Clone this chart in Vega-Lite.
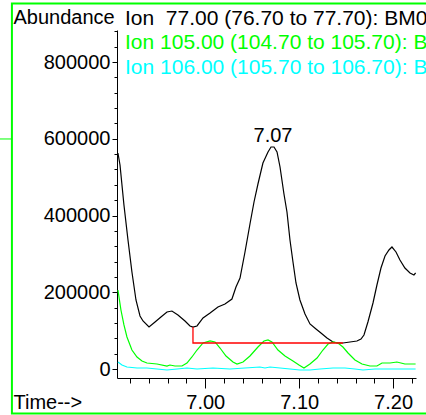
{
  "$schema": "https://vega.github.io/schema/vega-lite/v6.json",
  "width": 299,
  "height": 348,
  "autosize": {"type": "none"},
  "padding": {"left": 117, "top": 30, "right": 10, "bottom": 37},
  "background": "white",
  "config": {
    "view": {"stroke": null},
    "font": "Liberation Sans",
    "axis": {"labelFont": "Liberation Sans", "titleFont": "Liberation Sans", "labelFontSize": 20, "titleFontSize": 20, "titleFontWeight": "normal", "labelColor": "black", "titleColor": "black", "domainColor": "black", "tickColor": "black", "grid": false, "labelOverlap": false}
  },
  "resolve": {"axis": {"x": "independent", "y": "independent"}},
  "datasets": {
    "border": [{"time": 6.7941, "time2": 7.26, "abundance": 952400, "abundance2": -116000}],
    "stub": [{"time": 6.7813, "time2": 6.7941, "abundance": 599400}],
    "ions": [
      {"ion": "Ion 77", "time": 6.9070, "abundance": 562900},
      {"ion": "Ion 77", "time": 6.9092, "abundance": 531600},
      {"ion": "Ion 77", "time": 6.9134, "abundance": 427400},
      {"ion": "Ion 77", "time": 6.9177, "abundance": 336200},
      {"ion": "Ion 77", "time": 6.9219, "abundance": 252800},
      {"ion": "Ion 77", "time": 6.9262, "abundance": 179800},
      {"ion": "Ion 77", "time": 6.9305, "abundance": 138100},
      {"ion": "Ion 77", "time": 6.9337, "abundance": 125100},
      {"ion": "Ion 77", "time": 6.9401, "abundance": 109400},
      {"ion": "Ion 77", "time": 6.9465, "abundance": 122500},
      {"ion": "Ion 77", "time": 6.9528, "abundance": 135500},
      {"ion": "Ion 77", "time": 6.9592, "abundance": 148500},
      {"ion": "Ion 77", "time": 6.9645, "abundance": 151100},
      {"ion": "Ion 77", "time": 6.9709, "abundance": 140700},
      {"ion": "Ion 77", "time": 6.9784, "abundance": 125100},
      {"ion": "Ion 77", "time": 6.9837, "abundance": 112100},
      {"ion": "Ion 77", "time": 6.9869, "abundance": 109400},
      {"ion": "Ion 77", "time": 6.9912, "abundance": 112100},
      {"ion": "Ion 77", "time": 6.9976, "abundance": 132900},
      {"ion": "Ion 77", "time": 7.0051, "abundance": 145900},
      {"ion": "Ion 77", "time": 7.0135, "abundance": 161600},
      {"ion": "Ion 77", "time": 7.0210, "abundance": 169400},
      {"ion": "Ion 77", "time": 7.0284, "abundance": 182400},
      {"ion": "Ion 77", "time": 7.0327, "abundance": 213700},
      {"ion": "Ion 77", "time": 7.0370, "abundance": 237100},
      {"ion": "Ion 77", "time": 7.0423, "abundance": 304900},
      {"ion": "Ion 77", "time": 7.0476, "abundance": 377900},
      {"ion": "Ion 77", "time": 7.0519, "abundance": 435200},
      {"ion": "Ion 77", "time": 7.0561, "abundance": 482100},
      {"ion": "Ion 77", "time": 7.0614, "abundance": 536800},
      {"ion": "Ion 77", "time": 7.0668, "abundance": 565500},
      {"ion": "Ion 77", "time": 7.0700, "abundance": 578500},
      {"ion": "Ion 77", "time": 7.0732, "abundance": 578500},
      {"ion": "Ion 77", "time": 7.0764, "abundance": 565500},
      {"ion": "Ion 77", "time": 7.0796, "abundance": 526400},
      {"ion": "Ion 77", "time": 7.0838, "abundance": 456000},
      {"ion": "Ion 77", "time": 7.0870, "abundance": 409100},
      {"ion": "Ion 77", "time": 7.0902, "abundance": 336200},
      {"ion": "Ion 77", "time": 7.0934, "abundance": 278800},
      {"ion": "Ion 77", "time": 7.0966, "abundance": 224100},
      {"ion": "Ion 77", "time": 7.1008, "abundance": 179800},
      {"ion": "Ion 77", "time": 7.1062, "abundance": 143300},
      {"ion": "Ion 77", "time": 7.1115, "abundance": 117300},
      {"ion": "Ion 77", "time": 7.1179, "abundance": 104200},
      {"ion": "Ion 77", "time": 7.1232, "abundance": 93800},
      {"ion": "Ion 77", "time": 7.1296, "abundance": 80800},
      {"ion": "Ion 77", "time": 7.1360, "abundance": 70400},
      {"ion": "Ion 77", "time": 7.1413, "abundance": 67800},
      {"ion": "Ion 77", "time": 7.1466, "abundance": 67800},
      {"ion": "Ion 77", "time": 7.1541, "abundance": 70400},
      {"ion": "Ion 77", "time": 7.1615, "abundance": 73000},
      {"ion": "Ion 77", "time": 7.1658, "abundance": 78200},
      {"ion": "Ion 77", "time": 7.1690, "abundance": 88600},
      {"ion": "Ion 77", "time": 7.1732, "abundance": 122500},
      {"ion": "Ion 77", "time": 7.1786, "abundance": 172000},
      {"ion": "Ion 77", "time": 7.1828, "abundance": 218900},
      {"ion": "Ion 77", "time": 7.1871, "abundance": 263200},
      {"ion": "Ion 77", "time": 7.1914, "abundance": 294500},
      {"ion": "Ion 77", "time": 7.1956, "abundance": 310100},
      {"ion": "Ion 77", "time": 7.1988, "abundance": 317900},
      {"ion": "Ion 77", "time": 7.2031, "abundance": 304900},
      {"ion": "Ion 77", "time": 7.2073, "abundance": 284000},
      {"ion": "Ion 77", "time": 7.2126, "abundance": 263200},
      {"ion": "Ion 77", "time": 7.2180, "abundance": 250200},
      {"ion": "Ion 77", "time": 7.2222, "abundance": 245000},
      {"ion": "Ion 77", "time": 7.2240, "abundance": 250200},

      {"ion": "Ion 105", "time": 6.9070, "abundance": 205900},
      {"ion": "Ion 105", "time": 6.9102, "abundance": 153700},
      {"ion": "Ion 105", "time": 6.9134, "abundance": 114700},
      {"ion": "Ion 105", "time": 6.9166, "abundance": 83400},
      {"ion": "Ion 105", "time": 6.9219, "abundance": 49500},
      {"ion": "Ion 105", "time": 6.9273, "abundance": 31300},
      {"ion": "Ion 105", "time": 6.9326, "abundance": 20800},
      {"ion": "Ion 105", "time": 6.9379, "abundance": 15600},
      {"ion": "Ion 105", "time": 6.9486, "abundance": 13000},
      {"ion": "Ion 105", "time": 6.9592, "abundance": 7800},
      {"ion": "Ion 105", "time": 6.9624, "abundance": 10400},
      {"ion": "Ion 105", "time": 6.9677, "abundance": 7800},
      {"ion": "Ion 105", "time": 6.9752, "abundance": 7800},
      {"ion": "Ion 105", "time": 6.9805, "abundance": 15600},
      {"ion": "Ion 105", "time": 6.9858, "abundance": 31300},
      {"ion": "Ion 105", "time": 6.9912, "abundance": 49500},
      {"ion": "Ion 105", "time": 6.9976, "abundance": 67800},
      {"ion": "Ion 105", "time": 7.0051, "abundance": 73000},
      {"ion": "Ion 105", "time": 7.0104, "abundance": 70400},
      {"ion": "Ion 105", "time": 7.0157, "abundance": 54700},
      {"ion": "Ion 105", "time": 7.0221, "abundance": 33900},
      {"ion": "Ion 105", "time": 7.0295, "abundance": 18200},
      {"ion": "Ion 105", "time": 7.0338, "abundance": 13000},
      {"ion": "Ion 105", "time": 7.0402, "abundance": 18200},
      {"ion": "Ion 105", "time": 7.0476, "abundance": 33900},
      {"ion": "Ion 105", "time": 7.0561, "abundance": 57300},
      {"ion": "Ion 105", "time": 7.0625, "abundance": 73000},
      {"ion": "Ion 105", "time": 7.0668, "abundance": 75600},
      {"ion": "Ion 105", "time": 7.0710, "abundance": 70400},
      {"ion": "Ion 105", "time": 7.0774, "abundance": 49500},
      {"ion": "Ion 105", "time": 7.0849, "abundance": 33900},
      {"ion": "Ion 105", "time": 7.0934, "abundance": 20800},
      {"ion": "Ion 105", "time": 7.0998, "abundance": 10400},
      {"ion": "Ion 105", "time": 7.1051, "abundance": 2600},
      {"ion": "Ion 105", "time": 7.1115, "abundance": 13000},
      {"ion": "Ion 105", "time": 7.1190, "abundance": 28700},
      {"ion": "Ion 105", "time": 7.1253, "abundance": 49500},
      {"ion": "Ion 105", "time": 7.1307, "abundance": 65100},
      {"ion": "Ion 105", "time": 7.1360, "abundance": 70400},
      {"ion": "Ion 105", "time": 7.1413, "abundance": 67800},
      {"ion": "Ion 105", "time": 7.1466, "abundance": 57300},
      {"ion": "Ion 105", "time": 7.1520, "abundance": 41700},
      {"ion": "Ion 105", "time": 7.1594, "abundance": 23500},
      {"ion": "Ion 105", "time": 7.1669, "abundance": 13000},
      {"ion": "Ion 105", "time": 7.1754, "abundance": 7800},
      {"ion": "Ion 105", "time": 7.1828, "abundance": 7800},
      {"ion": "Ion 105", "time": 7.1882, "abundance": 15600},
      {"ion": "Ion 105", "time": 7.1967, "abundance": 15600},
      {"ion": "Ion 105", "time": 7.2041, "abundance": 18200},
      {"ion": "Ion 105", "time": 7.2126, "abundance": 13000},
      {"ion": "Ion 105", "time": 7.2240, "abundance": 13000},

      {"ion": "Ion 106", "time": 6.9070, "abundance": 18200},
      {"ion": "Ion 106", "time": 6.9113, "abundance": 10400},
      {"ion": "Ion 106", "time": 6.9166, "abundance": 5200},
      {"ion": "Ion 106", "time": 6.9273, "abundance": 2600},
      {"ion": "Ion 106", "time": 6.9379, "abundance": 2600},
      {"ion": "Ion 106", "time": 6.9486, "abundance": 0},
      {"ion": "Ion 106", "time": 6.9592, "abundance": -2600},
      {"ion": "Ion 106", "time": 6.9699, "abundance": 0},
      {"ion": "Ion 106", "time": 6.9805, "abundance": 2600},
      {"ion": "Ion 106", "time": 6.9912, "abundance": 0},
      {"ion": "Ion 106", "time": 7.0082, "abundance": 2600},
      {"ion": "Ion 106", "time": 7.0263, "abundance": 0},
      {"ion": "Ion 106", "time": 7.0423, "abundance": 2600},
      {"ion": "Ion 106", "time": 7.0582, "abundance": 5200},
      {"ion": "Ion 106", "time": 7.0636, "abundance": 2600},
      {"ion": "Ion 106", "time": 7.0689, "abundance": 5200},
      {"ion": "Ion 106", "time": 7.0796, "abundance": 2600},
      {"ion": "Ion 106", "time": 7.0902, "abundance": 0},
      {"ion": "Ion 106", "time": 7.1008, "abundance": -2600},
      {"ion": "Ion 106", "time": 7.1115, "abundance": -2600},
      {"ion": "Ion 106", "time": 7.1221, "abundance": 0},
      {"ion": "Ion 106", "time": 7.1360, "abundance": 2600},
      {"ion": "Ion 106", "time": 7.1488, "abundance": 2600},
      {"ion": "Ion 106", "time": 7.1594, "abundance": 0},
      {"ion": "Ion 106", "time": 7.1679, "abundance": -2600},
      {"ion": "Ion 106", "time": 7.1807, "abundance": 0},
      {"ion": "Ion 106", "time": 7.1967, "abundance": 0},
      {"ion": "Ion 106", "time": 7.2126, "abundance": 0},
      {"ion": "Ion 106", "time": 7.2240, "abundance": 0}
    ],
    "baseline": [
      {"step": 1, "time": 6.9869, "abundance": 109400},
      {"step": 2, "time": 6.9869, "abundance": 67800},
      {"step": 3, "time": 7.1466, "abundance": 67800}
    ],
    "peaks": [{"label": "7.07", "time": 7.07, "abundance": 578500}]
  },
  "layer": [
    {
      "data": {"name": "ions"},
      "mark": {"type": "line", "strokeWidth": 1.2, "clip": true},
      "encoding": {
        "x": {"field": "time", "type": "quantitative",
          "scale": {"domain": [6.906, 7.2244], "nice": false, "zero": false},
          "axis": {"orient": "bottom", "title": "Time-->", "titleX": -104, "titleY": 30, "titleAlign": "left", "titleBaseline": "alphabetic", "titleAngle": 0,
            "values": [7.0, 7.1, 7.2], "format": ".2f", "tickSize": 10,
            "labelPadding": 4, "labelBaseline": "top", "labelFlush": false, "labelOverlap": false}},
        "y": {"field": "abundance", "type": "quantitative",
          "scale": {"domain": [-23450, 883400], "nice": false, "zero": false},
          "axis": {"orient": "left", "title": "Abundance", "titleX": -104, "titleY": -7, "titleAlign": "left", "titleBaseline": "alphabetic", "titleAngle": 0,
            "values": [0, 200000, 400000, 600000, 800000], "format": "d", "tickSize": 5,
            "labelPadding": 2, "labelFlush": false, "labelOverlap": false}},
        "color": {"field": "ion", "type": "nominal",
          "scale": {"domain": ["Ion 77", "Ion 105", "Ion 106"], "range": ["#000000", "#00ff00", "#00ffff"]},
          "legend": {"orient": "none", "legendX": -13, "legendY": -22, "title": null, "symbolSize": 0, "symbolStrokeWidth": 0, "symbolOpacity": 0, "labelOffset": 0, "labelFontSize": 21, "labelFont": "Liberation Sans", "labelLimit": 2000, "rowPadding": 2.5, "padding": 0,
            "labelExpr": "datum.value == 'Ion 77' ? 'Ion \u00a077.00 (76.70 to 77.70): BM0' : datum.value == 'Ion 105' ? 'Ion 105.00 (104.70 to 105.70): B' : 'Ion 106.00 (105.70 to 106.70): B'",
            "encode": {"labels": {"update": {"fill": {"scale": "color", "field": "value"}}}}}}
      }
    },
    {
      "data": {"name": "baseline"},
      "mark": {"type": "line", "color": "#ff0000", "strokeWidth": 1.3},
      "encoding": {
        "x": {"field": "time", "type": "quantitative",
          "axis": {"orient": "bottom", "title": null, "domain": false, "labels": false, "tickSize": 5,
            "values": [6.92, 6.94, 6.96, 6.98, 7.02, 7.04, 7.06, 7.08, 7.12, 7.14, 7.16, 7.18, 7.22]}},
        "y": {"field": "abundance", "type": "quantitative",
          "axis": {"orient": "left", "title": null, "domain": false, "labels": false, "tickSize": 3,
            "values": [40000, 80000, 120000, 160000, 240000, 280000, 320000, 360000, 440000, 480000, 520000, 560000, 640000, 680000, 720000, 760000, 840000, 880000]}},
        "order": {"field": "step", "type": "quantitative"}
      }
    },
    {
      "data": {"name": "peaks"},
      "mark": {"type": "text", "fontSize": 20, "font": "Liberation Sans", "align": "center", "baseline": "alphabetic", "dy": -5, "dx": 2, "color": "black"},
      "encoding": {
        "x": {"field": "time", "type": "quantitative", "axis": null},
        "y": {"field": "abundance", "type": "quantitative", "axis": null},
        "text": {"field": "label"}
      }
    },
    {
      "data": {"name": "border"},
      "mark": {"type": "rect", "fillOpacity": 0, "stroke": "#00ff00", "strokeWidth": 2, "clip": false},
      "encoding": {
        "x": {"field": "time", "type": "quantitative", "axis": null},
        "x2": {"field": "time2"},
        "y": {"field": "abundance", "type": "quantitative", "axis": null},
        "y2": {"field": "abundance2"}
      }
    },
    {
      "data": {"name": "stub"},
      "mark": {"type": "rule", "stroke": "#00ff00", "strokeWidth": 1},
      "encoding": {
        "x": {"field": "time", "type": "quantitative", "axis": null},
        "x2": {"field": "time2"},
        "y": {"field": "abundance", "type": "quantitative", "axis": null}
      }
    }
  ]
}
